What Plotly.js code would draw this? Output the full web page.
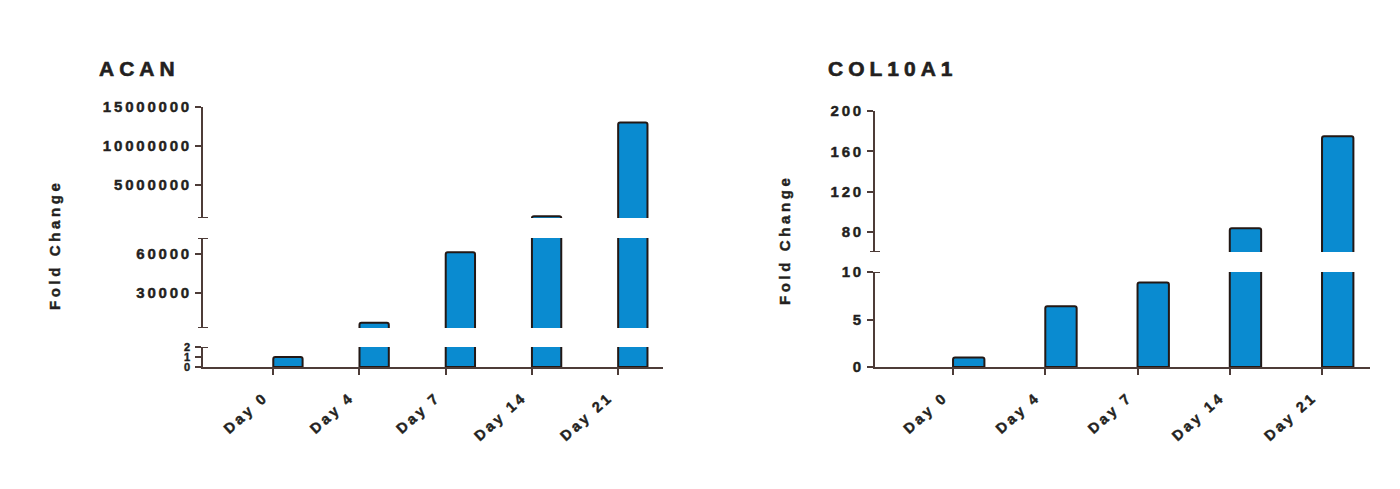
<!DOCTYPE html>
<html>
<head>
<meta charset="utf-8">
<script src="https://cdn.plot.ly/plotly-3.0.1.min.js"></script>
<style>
  html, body { margin: 0; padding: 0; background: #ffffff; }
  #chart { width: 1400px; height: 489px; }
  .main-svg text { letter-spacing: 2.8px; stroke: #231f20; stroke-width: 0.45px; }
  .xtick text, .x2tick text { letter-spacing: 3px; }
  text[data-unformatted="ACAN"], text[data-unformatted="COL10A1"] { letter-spacing: 5px; stroke-width: 0.6px; }
  text[data-unformatted="Fold Change"] { letter-spacing: 3.6px; }
</style>
</head>
<body>
<div id="chart"></div>
<script>
// ---- data ----
const categories = ['Day 0', 'Day 4', 'Day 7', 'Day 14', 'Day 21'];
const acanFold = [1, 7000, 61000, 1000000, 13000000];
const col10a1Fold = [1, 6.4, 8.9, 83.5, 175];

// tick values for each axis segment
const acanTicksLow = [0, 1, 2];
const acanTicksMid = [30000, 60000];
const acanTicksHigh = [5000000, 10000000, 15000000];
const colTicksLow = [0, 5, 10];
const colTicksHigh = [80, 120, 160, 200];

// segment ranges (broken axis)
const acanRangeLow = [0, 2];
const acanRangeMid = [3000, 72000];
const acanRangeHigh = [770000, 15000000];
const colRangeLow = [0, 10];
const colRangeHigh = [60, 200];

// ---- styling ----
const barColor = '#0a8bd0';
const edgeColor = '#231815';
const axisColor = '#4d3c38';
const textColor = '#231f20';
const fontFam = '"Liberation Sans", Arial, Helvetica, sans-serif';

function barTrace(xa, ya, vals) {
  return {
    type: 'bar', x: categories, y: vals, xaxis: xa, yaxis: ya,
    offset: 0, width: 0.34,
    marker: { color: barColor, line: { color: edgeColor, width: 2 }, cornerradius: 2 },
    showlegend: false, hoverinfo: 'skip'
  };
}

const data = [
  barTrace('x', 'y', acanFold),
  barTrace('x', 'y2', acanFold),
  barTrace('x', 'y3', acanFold),
  barTrace('x2', 'y4', col10a1Fold),
  barTrace('x2', 'y5', col10a1Fold)
];

const H = 489, W = 1400;
const py = p => 1 - p / H;
const px = p => p / W;

function yAxis(domain, range, tickvals, anchor, fsize) {
  return {
    domain: domain, range: range, anchor: anchor,
    tickmode: 'array', tickvals: tickvals, tickformat: 'd',
    showline: true, linecolor: axisColor, linewidth: 2,
    ticks: 'outside', ticklen: 6, tickwidth: 2, tickcolor: axisColor,
    showgrid: false, zeroline: false, fixedrange: true,
    tickfont: { family: fontFam, size: fsize || 15, color: textColor, weight: 700 }
  };
}
function xAxis(domain, range, anchor) {
  return {
    domain: domain, range: range, anchor: anchor, type: 'category',
    categoryorder: 'array', categoryarray: categories,
    showline: true, linecolor: axisColor, linewidth: 2,
    ticks: 'outside', ticklen: 6, tickwidth: 2, tickcolor: axisColor,
    showgrid: false, zeroline: false, fixedrange: true, tickangle: -42,
    ticklabelstandoff: 8, ticklabelshift: -9,
    tickfont: { family: fontFam, size: 14.5, color: textColor, weight: 700 }
  };
}

function cap(xref, yref, yval) {
  return {
    type: 'line', xref: xref, yref: yref, xsizemode: 'pixel', xanchor: 0,
    x0: -5, x1: 5, y0: yval, y1: yval,
    line: { color: axisColor, width: 2 }
  };
}

const layout = {
  width: W, height: H,
  margin: { l: 0, r: 0, t: 0, b: 0 },
  paper_bgcolor: '#ffffff', plot_bgcolor: 'rgba(0,0,0,0)',
  showlegend: false,
  font: { family: fontFam, color: textColor },
  xaxis: xAxis([px(203), px(663)], [-0.815, 4.52], 'y'),
  yaxis: yAxis([py(367), py(347)], acanRangeLow, acanTicksLow, 'x', 11),
  yaxis2: yAxis([py(328), py(238)], acanRangeMid, acanTicksMid, 'x'),
  yaxis3: yAxis([py(218), py(107)], acanRangeHigh, acanTicksHigh, 'x'),
  xaxis2: xAxis([px(875), px(1370)], [-0.846, 4.52], 'y4'),
  yaxis4: yAxis([py(367), py(272)], colRangeLow, colTicksLow, 'x2'),
  yaxis5: yAxis([py(252), py(111)], colRangeHigh, colTicksHigh, 'x2'),
  shapes: [
    cap('x domain', 'y', acanRangeLow[1]),
    cap('x domain', 'y2', acanRangeMid[0]),
    cap('x domain', 'y2', acanRangeMid[1]),
    cap('x domain', 'y3', acanRangeHigh[0]),
    cap('x2 domain', 'y4', colRangeLow[1]),
    cap('x2 domain', 'y5', colRangeHigh[0])
  ],
  annotations: [
    { text: 'ACAN', xref: 'paper', yref: 'paper', x: px(97), y: py(68),
      xanchor: 'left', yanchor: 'middle', showarrow: false,
      font: { family: fontFam, size: 21, color: textColor, weight: 700 } },
    { text: 'COL10A1', xref: 'paper', yref: 'paper', x: px(826), y: py(68),
      xanchor: 'left', yanchor: 'middle', showarrow: false,
      font: { family: fontFam, size: 21, color: textColor, weight: 700 } },
    { text: 'Fold Change', xref: 'paper', yref: 'paper', x: px(54), y: py(245),
      xanchor: 'center', yanchor: 'middle', showarrow: false, textangle: -90,
      font: { family: fontFam, size: 15, color: textColor, weight: 700 } },
    { text: 'Fold Change', xref: 'paper', yref: 'paper', x: px(784), y: py(240),
      xanchor: 'center', yanchor: 'middle', showarrow: false, textangle: -90,
      font: { family: fontFam, size: 15, color: textColor, weight: 700 } }
  ]
};

Plotly.newPlot('chart', data, layout, { displayModeBar: false, staticPlot: true });
</script>
</body>
</html>
